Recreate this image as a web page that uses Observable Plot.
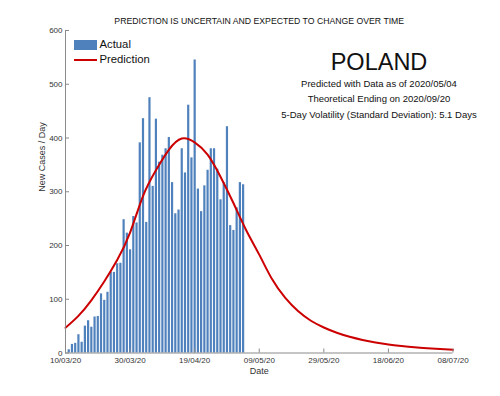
<!DOCTYPE html>
<html>
<head>
<meta charset="utf-8">
<script src="https://cdn.jsdelivr.net/npm/d3@7"></script>
<script src="https://cdn.jsdelivr.net/npm/@observablehq/plot@0.6"></script>
<style>
  body { margin: 0; background: #fff; }
  #wrap { position: relative; width: 500px; height: 396px; font-family: "Liberation Sans", Arial, sans-serif; }
  .lg { position: absolute; }
  .lgt { position: absolute; font-size: 11.3px; color: #111; line-height: 1; }
</style>
</head>
<body>
<div id="wrap"></div>
<script>
// ---- Data ----
const titleText = "PREDICTION IS UNCERTAIN AND EXPECTED TO CHANGE OVER TIME";
const country = "POLAND";
const infoLines = [
  "Predicted with Data as of 2020/05/04",
  "Theoretical Ending on 2020/09/20",
  "5-Day Volatility (Standard Deviation): 5.1 Days"
];
const axisStart = "2020-03-10";
const axisEnd = "2020-07-08";
const xTickDates = ["2020-03-10", "2020-03-30", "2020-04-19", "2020-05-09", "2020-05-29", "2020-06-18", "2020-07-08"];
const yTicks = [0, 100, 200, 300, 400, 500, 600];

// Actual daily new cases, one per day starting 2020-03-11
const actualStart = "2020-03-11";
const actualValues = [
  6, 16, 18, 34, 20, 50, 60, 48, 67, 68,
  110, 98, 113, 150, 150, 166, 167, 248, 223, 192,
  254, 242, 391, 436, 243, 475, 310, 435, 355, 368,
  380, 401, 317, 259, 266, 380, 335, 461, 363, 545,
  305, 263, 311, 340, 380, 380, 342, 285, 317, 421,
  237, 228, 270, 317, 313
];

// Prediction curve samples (day offset from 2020-03-10, value)
const predDays = [0, 4, 8, 12, 16, 20, 24, 28, 32, 36, 40, 44, 48, 52, 56, 60, 64, 68, 72, 76, 80, 84, 88, 92, 96, 100, 104, 108, 112, 116, 120];
const predValues = [47, 69, 98, 133, 173, 224, 292, 340, 378, 399, 392, 369, 328, 279, 228, 183, 137, 103, 78, 60, 47.5, 37.7, 30.1, 24.2, 19.5, 15.8, 13, 10.6, 8.8, 7.3, 6];

// ---- Build tables ----
const parse = d3.utcParse("%Y-%m-%d");
const t0 = parse(actualStart);
const actual = actualValues.map((v, i) => ({date: d3.utcDay.offset(t0, i), value: v}));
const p0 = parse(axisStart);
const pred = predDays.map((d, i) => ({date: d3.utcDay.offset(p0, d), value: predValues[i]}));
const xTicks = xTickDates.map(parse);

const W = 500, H = 396, ML = 65, MR = 47.5, MT = 30, MB = 43.5;
const frameW = W - ML - MR, frameH = H - MT - MB;
const axisColor = "#8a8a8a";
const textColor = "#333";

const chart = Plot.plot({
  width: W, height: H,
  marginLeft: ML, marginRight: MR, marginTop: MT, marginBottom: MB,
  style: {fontFamily: "Liberation Sans, Arial, sans-serif", background: "transparent", overflow: "visible"},
  x: {type: "utc", domain: [parse(axisStart), parse(axisEnd)]},
  y: {domain: [0, 600]},
  marks: [
    Plot.ruleX(actual, {x: "date", y: "value", stroke: "#4f81bd", strokeWidth: 2.2}),
    Plot.line(pred, {x: "date", y: "value", stroke: "#cc0000", strokeWidth: 2, curve: "natural"}),
    // axes
    Plot.axisX({ticks: xTicks, tickFormat: d3.utcFormat("%d/%m/%y"), tickSize: 0, tickPadding: 4.5, fontSize: 8, label: null, color: textColor}),
    Plot.ruleX(xTicks, {stroke: axisColor, insetTop: frameH - 4}),
    Plot.axisY({ticks: yTicks, tickSize: 0, tickPadding: 3, fontSize: 8, label: null, color: textColor}),
    Plot.ruleY(yTicks, {stroke: axisColor, insetRight: frameW - 4}),
    Plot.ruleY([0], {stroke: axisColor}),
    Plot.ruleX([parse(axisStart)], {stroke: axisColor}),
    // axis titles
    Plot.text([titleText], {frameAnchor: "top", lineAnchor: "middle", dy: -9.5, fontSize: 8.7, fill: "#111", text: d => d}),
    Plot.text(["Date"], {frameAnchor: "bottom", lineAnchor: "middle", dy: 18, fontSize: 9, fill: textColor, text: d => d}),
    Plot.text(["New Cases / Day"], {frameAnchor: "left", lineAnchor: "middle", dx: -23, rotate: -90, fontSize: 9, fill: textColor, text: d => d}),
    // annotation block
    Plot.text([country], {frameAnchor: "top", lineAnchor: "middle", dx: 119.75, dy: 31.6, fontSize: 23.5, fill: "#111", text: d => d}),
    Plot.text([infoLines[0]], {frameAnchor: "top", lineAnchor: "middle", dx: 119.75, dy: 53, fontSize: 9.5, fill: "#111", text: d => d}),
    Plot.text([infoLines[1]], {frameAnchor: "top", lineAnchor: "middle", dx: 119.75, dy: 68.5, fontSize: 9.5, fill: "#111", text: d => d}),
    Plot.text([infoLines[2]], {frameAnchor: "top", lineAnchor: "middle", dx: 119.75, dy: 84.8, fontSize: 9.5, fill: "#111", text: d => d})
  ]
});

const wrap = document.getElementById("wrap");
wrap.appendChild(chart);

// legend (HTML overlay, top-left inside the plot frame)
const legend = [
  {label: "Actual", kind: "bar", color: "#4f81bd"},
  {label: "Prediction", kind: "line", color: "#cc0000"}
];
legend.forEach((d, i) => {
  const sw = document.createElement("div");
  sw.className = "lg";
  sw.style.left = "74px";
  sw.style.width = "23px";
  sw.style.background = d.color;
  if (d.kind === "bar") { sw.style.top = "40px"; sw.style.height = "9.5px"; }
  else { sw.style.top = "58.5px"; sw.style.height = "2px"; }
  wrap.appendChild(sw);
  const tx = document.createElement("div");
  tx.className = "lgt";
  tx.textContent = d.label;
  tx.style.left = "99.5px";
  tx.style.top = (i === 0 ? 38.5 : 53.5) + "px";
  wrap.appendChild(tx);
});
</script>
</body>
</html>
